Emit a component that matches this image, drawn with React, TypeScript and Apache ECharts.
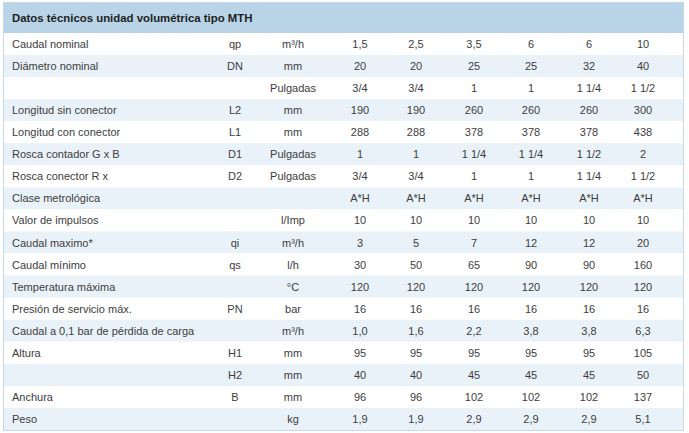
import React, { useEffect, useRef } from "react";
import * as echarts from "echarts";

const title = "Datos técnicos unidad volumétrica tipo MTH";
const labels = ["Caudal nominal", "Diámetro nominal", "", "Longitud sin conector", "Longitud con conector", "Rosca contador G x B", "Rosca conector R x", "Clase metrológica", "Valor de impulsos", "Caudal maximo*", "Caudal mínimo", "Temperatura máxima", "Presión de servicio máx.", "Caudal a 0,1 bar de pérdida de carga", "Altura", "", "Anchura", "Peso"];
const symbols = ["qp", "DN", "", "L2", "L1", "D1", "D2", "", "", "qi", "qs", "", "PN", "", "H1", "H2", "B", ""];
const units = ["m³/h", "mm", "Pulgadas", "mm", "mm", "Pulgadas", "Pulgadas", "", "l/Imp", "m³/h", "l/h", "°C", "bar", "m³/h", "mm", "mm", "mm", "kg"];
const model1 = ["1,5", "20", "3/4", "190", "288", "1", "3/4", "A*H", "10", "3", "30", "120", "16", "1,0", "95", "40", "96", "1,9"];
const model2 = ["2,5", "20", "3/4", "190", "288", "1", "3/4", "A*H", "10", "5", "50", "120", "16", "1,6", "95", "40", "96", "1,9"];
const model3 = ["3,5", "25", "1", "260", "378", "1 1/4", "1", "A*H", "10", "7", "65", "120", "16", "2,2", "95", "45", "102", "2,9"];
const model4 = ["6", "25", "1", "260", "378", "1 1/4", "1", "A*H", "10", "12", "90", "120", "16", "3,8", "95", "45", "102", "2,9"];
const model5 = ["6", "32", "1 1/4", "260", "378", "1 1/2", "1 1/4", "A*H", "10", "12", "90", "120", "16", "3,8", "95", "45", "102", "2,9"];
const model6 = ["10", "40", "1 1/2", "300", "438", "2", "1 1/2", "A*H", "10", "20", "160", "120", "16", "6,3", "105", "50", "137", "5,1"];

const models = [model1, model2, model3, model4, model5, model6];
// layout (pixel positions along the hidden x axis)
const labelX = 12;
const symbolX = 235;
const unitX = 293;
const modelX = [360, 416, 474, 531, 589, 643];

const FONT = "11px 'Liberation Sans', Arial, sans-serif";
const TEXT = "#3d3d3d";

export default function App() {
  const ref = useRef<HTMLDivElement>(null);
  useEffect(() => {
    if (!ref.current) return;
    const chart = echarts.init(ref.current, undefined, { renderer: "svg" });
    const rowIdx = labels.map((_, i) => i);
    const mkText = (text: string, x: number, y: number, align: string) => ({
      type: "text",
      style: {
        text,
        x,
        y,
        textAlign: align,
        textVerticalAlign: "middle",
        align,
        verticalAlign: "middle",
        font: FONT,
        fill: TEXT,
      },
    });
    chart.setOption({
      animation: false,
      grid: { left: 0, right: 0, top: 33, bottom: 3 },
      xAxis: { type: "value", min: 0, max: 689, show: false },
      yAxis: { type: "category", data: rowIdx.map(String), inverse: true, show: false },
      graphic: [
        { type: "rect", shape: { x: 3, y: 2, width: 681, height: 31 }, style: { fill: "#b8d4e6" } },
        {
          type: "text",
          style: {
            text: title,
            x: 12,
            y: 18,
            textVerticalAlign: "middle",
            verticalAlign: "middle",
            font: "bold 11.4px 'Liberation Sans', Arial, sans-serif",
            fill: "#1e1e1e",
          },
        },
        {
          type: "rect",
          z: 100,
          shape: { x: 3.5, y: 2.5, width: 680, height: 428 },
          style: { fill: "none", stroke: "#c6d9e6", lineWidth: 1 },
        },
      ],
      series: [
        {
          type: "custom",
          data: rowIdx,
          renderItem: (params: any, api: any) => {
            const i = api.value(0);
            const c = api.coord([0, i]);
            const h = api.size([0, 1])[1];
            const y = c[1];
            const children: any[] = [
              {
                type: "rect",
                shape: { x: 3, y: y - h / 2, width: 681, height: h },
                style: { fill: i % 2 === 1 ? "#e9f2f8" : "#ffffff" },
              },
              mkText(labels[i], api.coord([labelX, i])[0], y, "left"),
              mkText(symbols[i], api.coord([symbolX, i])[0], y, "center"),
              mkText(units[i], api.coord([unitX, i])[0], y, "center"),
            ];
            models.forEach((m, k) => {
              children.push(mkText(m[i], api.coord([modelX[k], i])[0], y, "center"));
            });
            return { type: "group", children };
          },
        },
      ],
    });
    return () => chart.dispose();
  }, []);
  return (
    <div
      ref={ref}
      style={{ position: "fixed", left: 0, top: 0, width: 689, height: 433, background: "#ffffff" }}
    />
  );
}
